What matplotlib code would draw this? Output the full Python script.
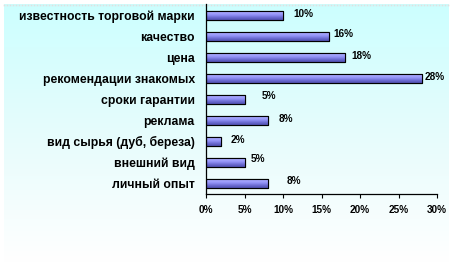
import numpy as np
import matplotlib
matplotlib.use("Agg")
import matplotlib.pyplot as plt
from matplotlib.colors import LinearSegmentedColormap

categories = [
    "известность торговой марки",
    "качество",
    "цена",
    "рекомендации знакомых",
    "сроки гарантии",
    "реклама",
    "вид сырья (дуб, береза)",
    "внешний вид",
    "личный опыт",
]
values = [10, 16, 18, 28, 5, 8, 2, 5, 8]
value_labels = ["10%", "16%", "18%", "28%", "5%", "8%", "2%", "5%", "8%"]
x_ticks = [0, 5, 10, 15, 20, 25, 30]
x_tick_labels = ["0%", "5%", "10%", "15%", "20%", "25%", "30%"]

# label offsets (px) right of bar end / up, mimicking the original placement
label_dx = [10, 4, 7, 3, 17, 11, 9, 6, 19]
label_dy = [1, 2, 1, 1, 3, 1, 1, 3, 2]

plt.rcParams["font.family"] = ["Liberation Sans", "DejaVu Sans"]
W, H = 455, 266
fig = plt.figure(figsize=(W / 100, H / 100), dpi=100)
fig.patch.set_facecolor("white")

# background gradient panel
bg = fig.add_axes([0, 0, 1, 1], zorder=0)
bg.set_xlim(0, W)
bg.set_ylim(H, 0)
bg.axis("off")
bg_cmap = LinearSegmentedColormap.from_list("bg", ["#CCFFFF", "#E6FCFC", "#FFFFFF"])
grad = np.linspace(0, 1, 256).reshape(-1, 1)
bg.imshow(grad, cmap=bg_cmap, extent=(4, 449, 262, 4), aspect="auto", interpolation="bicubic")
bg.plot(np.arange(4, 449, 3), np.full(len(range(4, 449, 3)), 4.5), ls="none", marker="s",
        ms=1.2, mec="none", mfc="#E0E0E0")

ax = fig.add_axes([206 / W, 1 - 194 / H, 231 / W, 189.5 / H], zorder=1)
ax.patch.set_alpha(0)
y = np.arange(len(categories))
bars = ax.barh(y, values, height=0.43, color="#9999FF", edgecolor="black", linewidth=0.8, zorder=2)

bar_cmap = LinearSegmentedColormap.from_list("bar", ["#7070D8", "#A8A8FF", "#9090F4", "#6A6AD0", "#5050B0"])
for b in bars:
    x0, y0 = b.get_x(), b.get_y()
    w, h = b.get_width(), b.get_height()
    im = ax.imshow(np.linspace(0, 1, 64).reshape(-1, 1), cmap=bar_cmap, aspect="auto",
                   extent=(x0, x0 + w, y0 + h, y0), zorder=2.5, interpolation="bilinear")
    im.set_clip_path(b)
    ax.add_patch(plt.Rectangle((x0, y0), w, h, fill=False, ec="black", lw=0.8, zorder=3))

for yi, v, lab, dx, dy in zip(y, values, value_labels, label_dx, label_dy):
    ax.annotate(lab, (v, yi), xytext=(dx * 0.72, dy * 0.72), textcoords="offset points",
                ha="left", va="center", fontsize=7.2, fontweight="heavy")

ax.set_xlim(0, 30)
ax.set_ylim(len(categories) - 0.5, -0.5)
ax.set_xticks(x_ticks)
ax.set_xticklabels(x_tick_labels, fontsize=7.2, fontweight="heavy")
ax.set_yticks(y)
ax.set_yticklabels(categories, fontsize=8.8, fontweight="heavy")
ax.tick_params(axis="y", length=0, pad=8)
ax.tick_params(axis="x", length=3, width=0.8, direction="out", pad=5)
for side in ("top", "right"):
    ax.spines[side].set_visible(False)
for side in ("left", "bottom"):
    ax.spines[side].set_linewidth(0.9)

fig.savefig("out.png", dpi=100)
